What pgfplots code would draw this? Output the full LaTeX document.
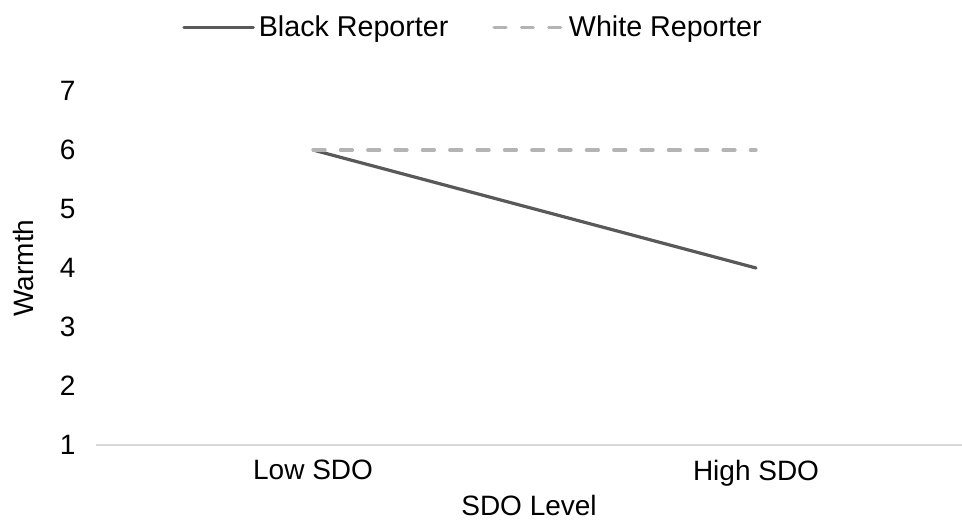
\documentclass[border=0pt]{standalone}
\usepackage{pgfplots}
\pgfplotsset{compat=1.18}
\usepackage{fontspec}
\setmainfont{Liberation Sans}
\definecolor{blackrep}{HTML}{595959}
\definecolor{whiterep}{HTML}{B4B4B4}
\definecolor{axisgray}{HTML}{D9D9D9}
\begin{document}
\begin{tikzpicture}
\begin{axis}[
  scale only axis,
  width=649.5pt, height=265.5pt,
  xmin=-0.49, xmax=1.465,
  ymin=1, ymax=7,
  xtick={0,1}, xticklabels={Low SDO, High SDO},
  ytick={1,2,3,4,5,6,7},
  major tick length=0pt,
  axis x line*=bottom,
  axis y line*=left,
  y axis line style={draw=none},
  x axis line style={axisgray, line width=1.2pt, -},
  font=\fontsize{21}{25}\selectfont,
  /pgf/number format/assume math mode=true,
  xticklabel style={font=\fontsize{21}{25}\selectfont, yshift=-8pt},
  yticklabel style={font=\fontsize{21}{25}\selectfont, anchor=east, xshift=-12pt},
  clip=false,
  legend columns=2,
  legend style={draw=none, fill=none, at={(rel axis cs:0.4365,1.18)}, anchor=center,
    font=\fontsize{21.5}{25}\selectfont,
    /tikz/every even column/.append style={column sep=30pt},
    nodes={inner xsep=3pt}},
  legend image code/.code={\draw[#1] (0pt,0pt) -- (52pt,0pt);},
]
\addplot[blackrep, line width=2.4pt, line cap=round] coordinates {(0,6) (1,4)};
\addlegendentry{Black Reporter}
\addplot[whiterep, line width=2.4pt, line cap=round, dash pattern=on 9pt off 11.5pt] coordinates {(0,6) (1,6)};
\addlegendentry{White Reporter}
\node[font=\fontsize{21}{25}\selectfont, rotate=90, anchor=center] at (rel axis cs:-0.0843,0.5) {Warmth};
\node[font=\fontsize{21}{25}\selectfont, anchor=center] at (rel axis cs:0.5,-0.17) {SDO Level};
\coordinate (bl) at (rel axis cs:-0.1109,-0.2147);
\coordinate (tr) at (rel axis cs:1,1.2571);
\end{axis}
\pgfresetboundingbox
\path[use as bounding box] (bl) rectangle (tr);
\end{tikzpicture}
\end{document}
